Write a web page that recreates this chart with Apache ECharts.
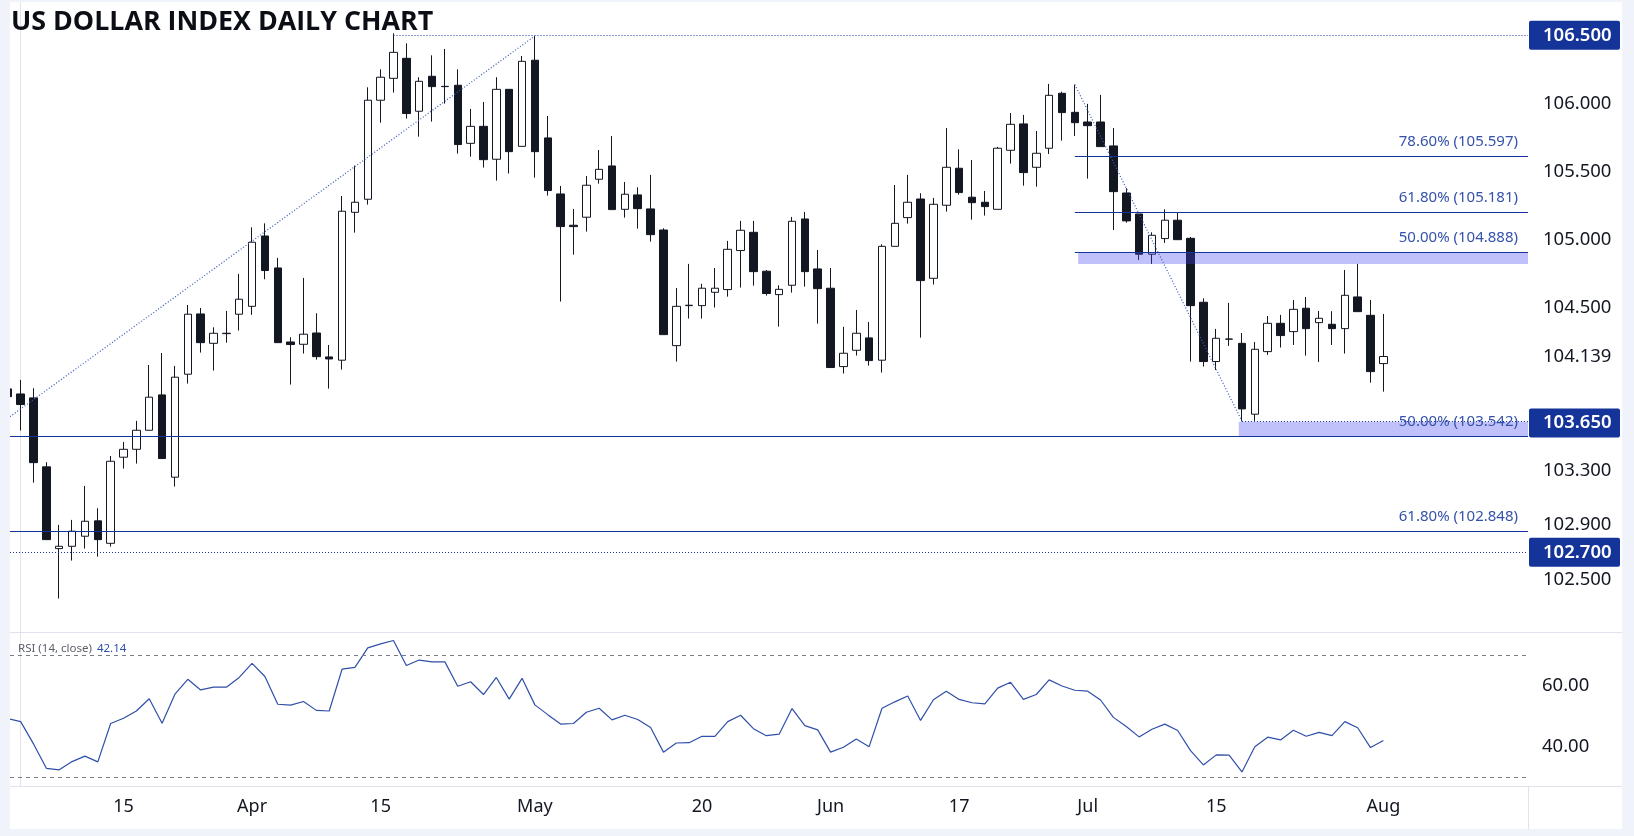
<!DOCTYPE html>
<html>
<head>
<meta charset="utf-8">
<title>US Dollar Index Daily Chart</title>
<script src="https://cdn.jsdelivr.net/npm/echarts@6/dist/echarts.min.js"></script>
<style>
  html, body { margin: 0; padding: 0; background: #fff; }
  #chart { width: 1634px; height: 836px; }
</style>
</head>
<body>
<div id="chart"></div>
<script>
/* 从 -1 号（左边被裁掉的那根）到 106 号（8月1日） */
var firstIndex = -1
var opens = [103.901,103.864,103.835,103.328,102.727,102.744,102.818,102.931,102.766,103.399,103.457,103.597,103.857,103.252,104.009,104.452,104.236,104.307,104.450,104.508,105.025,104.790,104.246,104.229,104.312,104.136,104.112,105.199,105.295,106.023,106.184,106.331,105.942,106.199,106.123,106.133,105.706,105.831,105.589,106.103,105.684,106.317,105.746,105.334,105.104,105.163,105.442,105.540,105.221,105.327,105.224,105.069,104.219,104.513,104.513,104.611,104.631,104.918,105.052,104.766,104.594,104.663,105.150,104.783,104.641,104.065,104.185,104.276,104.112,104.949,105.160,105.297,104.714,105.251,105.523,105.310,105.273,105.221,105.655,105.849,105.530,105.670,106.074,105.934,105.863,105.863,105.687,105.341,105.187,104.891,105.006,105.141,105.008,104.538,104.102,104.266,104.236,103.715,104.175,104.383,104.322,104.494,104.388,104.376,104.344,104.577,104.442,104.087]
var closes = [103.844,103.786,103.359,102.793,102.744,102.855,102.928,102.793,103.369,103.457,103.597,103.840,103.389,103.987,104.450,104.241,104.310,104.310,104.560,104.979,104.771,104.241,104.227,104.303,104.138,104.121,105.207,105.273,106.023,106.192,106.375,105.925,106.162,106.123,106.125,105.697,105.831,105.586,106.103,105.645,106.309,105.645,105.359,105.094,105.094,105.398,105.515,105.219,105.332,105.226,105.035,104.300,104.508,104.516,104.641,104.641,104.927,105.067,104.763,104.602,104.633,105.133,104.763,104.638,104.058,104.163,104.310,104.109,104.949,105.118,105.273,104.697,105.258,105.530,105.344,105.270,105.241,105.670,105.846,105.491,105.633,106.059,105.932,105.858,105.836,105.682,105.351,105.136,104.891,105.030,105.141,104.998,104.513,104.102,104.273,104.268,103.754,104.192,104.383,104.293,104.486,104.344,104.420,104.344,104.589,104.469,104.028,104.139]
var lows = [103.832,103.595,103.212,102.793,102.360,102.639,102.727,102.668,102.742,103.315,103.352,103.597,103.389,103.183,103.940,104.168,104.036,104.241,104.330,104.445,104.707,104.241,103.933,104.161,104.116,103.903,104.043,105.050,105.256,105.858,106.079,105.888,105.755,105.866,105.998,105.631,105.608,105.528,105.432,105.484,105.684,105.454,105.322,104.543,104.888,105.057,105.410,105.219,105.160,105.079,104.984,104.300,104.102,104.418,104.418,104.499,104.579,104.646,104.660,104.587,104.359,104.609,104.653,104.381,104.058,104.014,104.146,104.072,104.021,104.949,105.116,104.278,104.668,105.204,105.329,105.145,105.175,105.221,105.557,105.395,105.388,105.628,105.726,105.760,105.447,105.682,105.069,105.123,104.849,104.820,104.974,104.998,104.102,104.065,104.040,104.217,103.663,103.666,104.151,104.205,104.224,104.146,104.099,104.224,104.161,104.469,103.947,103.881]
var highs = [103.918,103.967,103.906,103.362,102.901,102.938,103.188,103.024,103.408,103.511,103.666,104.077,104.165,104.070,104.518,104.496,104.354,104.474,104.746,105.089,105.118,104.864,104.281,104.717,104.457,104.224,105.319,105.542,106.118,106.250,106.515,106.441,106.192,106.353,106.400,106.250,105.959,106.010,106.192,106.103,106.348,106.495,105.907,105.393,105.224,105.466,105.657,105.760,105.422,105.383,105.474,105.082,104.643,104.820,104.673,104.790,104.989,105.136,105.136,104.775,104.663,105.165,105.202,104.922,104.790,104.357,104.481,104.393,104.964,105.400,105.474,105.339,105.305,105.819,105.662,105.584,105.356,105.680,105.929,105.915,105.797,106.143,106.086,106.138,105.996,106.062,105.819,105.376,105.187,105.052,105.221,105.197,105.018,104.567,104.342,104.533,104.312,104.246,104.437,104.445,104.555,104.577,104.474,104.472,104.775,104.820,104.555,104.452]
var rsi = [49.3,48.3,41.0,33.0,32.5,35.2,37.0,35.1,47.7,49.4,51.8,55.8,47.8,57.3,62.2,58.7,59.6,59.6,62.8,67.4,63.1,54.0,53.7,54.9,52.0,51.8,65.5,66.1,72.5,73.8,74.9,66.7,68.5,67.9,67.9,59.9,61.4,57.2,62.8,55.7,62.5,53.8,50.6,47.5,47.7,51.4,52.7,48.9,50.4,49.0,46.4,38.3,41.3,41.4,43.5,43.5,48.3,50.4,46.0,43.7,44.2,52.6,47.0,45.6,38.3,39.9,42.6,40.1,52.7,54.8,56.7,48.7,55.5,58.3,55.6,54.5,54.1,59.3,61.2,55.6,57.2,62.0,60.0,58.6,58.3,55.4,49.7,46.7,43.3,45.8,47.5,45.4,38.8,34.1,37.4,37.3,31.8,40.1,43.2,42.3,45.5,43.5,44.8,43.7,48.3,46.3,39.8,42.14]

/* 坐标轴刻度 */
var dateTicks = [8,18,28,40,53,63,73,83,93,106]
var dateLabels = ['15','Apr','15','May','20','Jun','17','Jul','15','Aug']
var priceTicks = [106.5,106,105.5,105,104.5,104.139,103.65,103.3,102.9,102.7,102.5]
var boxedPrices = [106.5,103.65,102.7]
var rsiTicks = [60,40]

/* 画线：price 是图上线的位置，text 是线上写的文字 */
var fibLevels = [
  { from: 82, price: 105.611, text: '78.60% (105.597)' },
  { from: 82, price: 105.199, text: '61.80% (105.181)' },
  { from: 82, price: 104.905, text: '50.00% (104.888)' },
  { from: null, price: 103.555, text: '50.00% (103.542)' },
  { from: null, price: 102.854, text: '61.80% (102.848)' }
]
var dottedLevels = [[29,106.5],[95,103.66],[null,102.7]]
var trendLines = [[null,103.697,40,106.495],[82,106.138,95,103.663]]
var zones = [[82.26,104.905,104.82],[94.75,103.66,103.555]]
var rsiBands = [70,30]

/* 两端留白 */
var xMin = -0.83
var xMax = 117.25

var chartBlue = '#14349a'
var ink = '#131722'
var sepColor = '#e0e3eb'
var frameColor = '#f0f3fa'
var axisFont = '"Noto Sans", sans-serif'

var myEchart = echarts.init(document.getElementById('chart'))

var candleData = opens.map(function (o, i) {
  return [i + firstIndex, o, closes[i], lows[i], highs[i]]
})
var rsiData = rsi.map(function (v, i) {
  return [i + firstIndex, v]
})

var markLines = []
fibLevels.forEach(function (f) {
  markLines.push([
    {
      coord: [f.from === null ? xMin : f.from, f.price],
      lineStyle: { color: chartBlue, width: 1.2, type: 'solid' },
      label: {
        show: true, formatter: f.text, position: 'insideEndTop', distance: [10, 7],
        color: '#3552aa', fontSize: 15, fontFamily: axisFont
      }
    },
    { coord: [xMax, f.price] }
  ])
})
dottedLevels.forEach(function (d) {
  markLines.push([
    { coord: [d[0] === null ? xMin : d[0], d[1]], lineStyle: { color: chartBlue, width: 1, type: [1, 2] }, label: { show: false } },
    { coord: [xMax, d[1]] }
  ])
})
trendLines.forEach(function (t) {
  markLines.push([
    { coord: [t[0] === null ? xMin : t[0], t[1]], lineStyle: { color: '#3f5fbd', width: 1.3, type: [1, 2] }, label: { show: false } },
    { coord: [t[2], t[3]] }
  ])
})

var option = {
  animation: false,
  backgroundColor: '#fff',
  title: [
    {
      text: 'US DOLLAR INDEX DAILY CHART',
      left: 6, top: 4,
      textStyle: { color: '#0b0e14', fontSize: 26.8, fontWeight: 'bold', fontFamily: '"Open Sans", sans-serif' }
    },
    {
      text: '{a|RSI (14, close)} {b|' + rsi[rsi.length - 1] + '}',
      left: 13, top: 635,
      textStyle: {
        fontWeight: 'normal',
        rich: {
          a: { color: '#5d606b', fontSize: 11.5, fontWeight: 'normal', fontFamily: axisFont },
          b: { color: '#2f4fa8', fontSize: 11.5, fontWeight: 'normal', fontFamily: axisFont }
        }
      }
    }
  ],
  grid: [
    { left: 10, top: 2, width: 1518, height: 630 },
    { left: 10, top: 632, width: 1518, height: 154 }
  ],
  xAxis: [
    {
      type: 'value', gridIndex: 0, min: xMin, max: xMax, show: false, splitLine: { show: false }
    },
    {
      type: 'value', gridIndex: 1, min: xMin, max: xMax,
      splitLine: { show: false },
      axisLine: { show: false },
      axisTick: { show: false },
      axisLabel: {
        customValues: dateTicks,
        margin: 12,
        color: ink,
        fontSize: 18,
        fontFamily: axisFont,
        formatter: function (v) {
          return dateLabels[dateTicks.indexOf(v)]
        }
      }
    }
  ],
  yAxis: [
    {
      type: 'value', gridIndex: 0, position: 'right', min: 102.114, max: 106.745, scale: true,
      splitLine: { show: false },
      axisLine: { show: true, lineStyle: { color: sepColor } },
      axisTick: { show: false },
      axisLabel: {
        customValues: priceTicks,
        margin: 1,
        formatter: function (v) {
          var s = v.toFixed(3)
          if (boxedPrices.indexOf(v) > -1) return '{box|' + s + '}'
          if (v === 104.139) return '{last|' + s + '}'
          return '{plain|' + s + '}'
        },
        rich: {
          plain: { width: 77, height: 28, padding: [0, 0, 0, 14], color: ink, fontSize: 18.5, fontFamily: axisFont },
          last: { width: 77, height: 30, padding: [0, 0, 0, 14], backgroundColor: '#fff', color: ink, fontSize: 18.5, fontFamily: axisFont },
          box: { width: 77, height: 29, padding: [0, 0, 0, 14], backgroundColor: chartBlue, borderRadius: 2, color: '#fff', fontSize: 18.5, fontWeight: 600, fontFamily: axisFont }
        }
      }
    },
    {
      type: 'value', gridIndex: 1, position: 'right', min: 27.2, max: 77.7, scale: true,
      splitLine: { show: false },
      axisLine: { show: true, lineStyle: { color: sepColor } },
      axisTick: { show: false },
      axisLabel: {
        customValues: rsiTicks,
        margin: 14,
        color: ink,
        fontSize: 18.5,
        fontFamily: axisFont,
        formatter: function (v) { return v.toFixed(2) }
      }
    }
  ],
  series: [
    {
      name: 'DXY',
      type: 'candlestick',
      xAxisIndex: 0,
      yAxisIndex: 0,
      data: candleData,
      barWidth: 8,
      clip: true,
      itemStyle: {
        color: '#fff',
        color0: ink,
        borderColor: ink,
        borderColor0: ink,
        borderColorDoji: ink,
        borderWidth: 1
      },
      markLine: {
        silent: true,
        symbol: 'none',
        z: 6,
        data: markLines
      },
      markArea: {
        silent: true,
        z: 5,
        itemStyle: { color: 'rgba(64,64,240,0.33)' },
        data: zones.map(function (z) {
          return [{ coord: [z[0], z[1]] }, { coord: [xMax, z[2]] }]
        })
      }
    },
    {
      name: 'RSI',
      type: 'line',
      xAxisIndex: 1,
      yAxisIndex: 1,
      data: rsiData,
      showSymbol: false,
      clip: true,
      lineStyle: { color: '#2f4fa8', width: 1.2 },
      markLine: {
        silent: true,
        symbol: 'none',
        label: { show: false },
        lineStyle: { color: '#787b86', width: 1, type: [4, 4] },
        data: rsiBands.map(function (b) { return { yAxis: b } })
      }
    }
  ],
  /* 外框和分隔线 */
  graphic: [
    { type: 'rect', z: 50, shape: { x: 0, y: 0, width: 10, height: 836 }, style: { fill: frameColor } },
    { type: 'rect', z: 50, shape: { x: 0, y: 0, width: 1634, height: 2 }, style: { fill: frameColor } },
    { type: 'rect', z: 50, shape: { x: 0, y: 829, width: 1634, height: 7 }, style: { fill: frameColor } },
    { type: 'rect', z: 50, shape: { x: 1622, y: 0, width: 12, height: 836 }, style: { fill: frameColor } },
    { type: 'line', z: 40, shape: { x1: 10, y1: 632.5, x2: 1622, y2: 632.5 }, style: { stroke: sepColor, lineWidth: 1 } },
    { type: 'line', z: 40, shape: { x1: 10, y1: 786.5, x2: 1622, y2: 786.5 }, style: { stroke: sepColor, lineWidth: 1 } },
    { type: 'line', z: 1, shape: { x1: 1528.5, y1: 786, x2: 1528.5, y2: 829 }, style: { stroke: sepColor, lineWidth: 1 } }
  ]
}

myEchart.setOption(option)
window.addEventListener('resize', function () {
  myEchart.resize()
})
</script>
</body>
</html>
